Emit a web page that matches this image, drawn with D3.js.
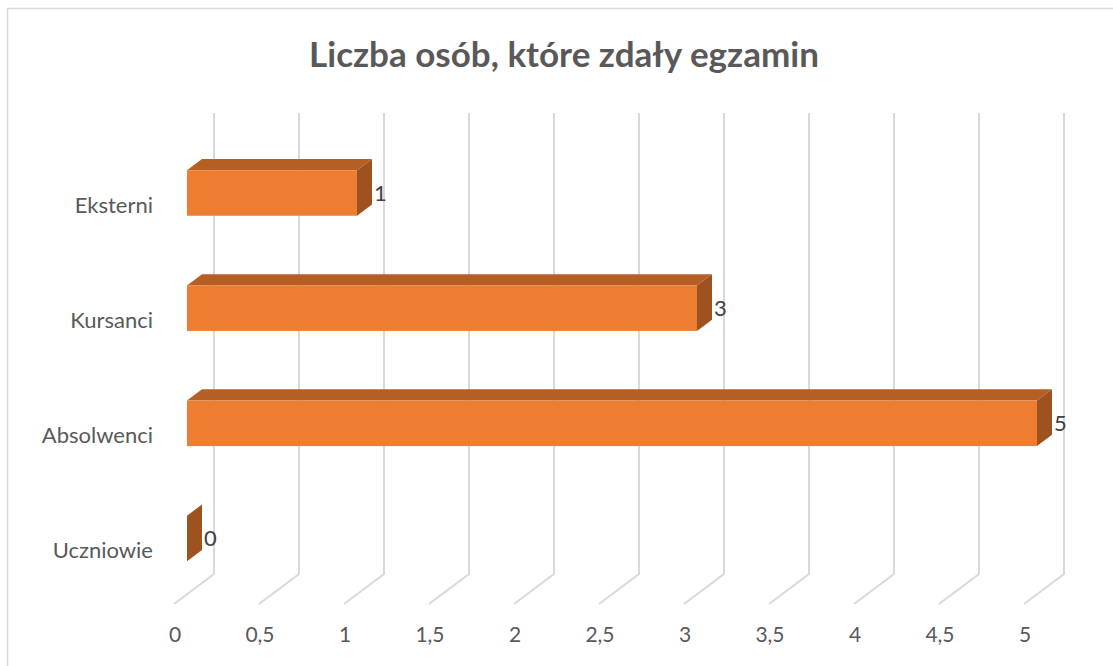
<!DOCTYPE html>
<html>
<head>
<meta charset="utf-8">
<script src="https://cdn.jsdelivr.net/npm/d3@7"></script>
<style>
  body { margin: 0; background: #fff; }
  svg { display: block; font-family: Lato, "Open Sans", sans-serif; }
</style>
</head>
<body>
<script>
const WIDTH = 1113;
const HEIGHT = 666;

var categories = ['Eksterni', 'Kursanci', 'Absolwenci', 'Uczniowie'];
var values = [1, 3, 5, 0];
var ticks = [0, 0.5, 1, 1.5, 2, 2.5, 3, 3.5, 4, 4.5, 5];
var tickLabels = ['0', '0,5', '1', '1,5', '2', '2,5', '3', '3,5', '4', '4,5', '5'];
var title = 'Liczba osób, które zdały egzamin';

// 3d look: back wall is shifted right/up from the front floor edge
var DEPTH_X = 40, DEPTH_Y = -30;
var FLOOR_Y = 604, TOP_Y = 113;
var BAR_H = 45.5;
var barFront = 0.325, barBack = 0.7; // depth fractions of the bar

var svg = d3.select('body').append('svg')
    .attr('width', WIDTH)
    .attr('height', HEIGHT);

// chart border
svg.append('rect')
    .attr('x', 7.5).attr('y', 8.5)
    .attr('width', 1200).attr('height', 700)
    .attr('fill', 'none')
    .attr('stroke', '#d9d9d9')
    .attr('stroke-width', 1.5);

var x = d3.scaleLinear().domain([0, 5]).range([174, 1024]);
var y = d3.scalePoint().domain(categories).range([193, 538.5]);

// gridlines (floor diagonal + back wall vertical)
svg.append('g').selectAll('path')
    .data(ticks)
    .enter()
    .append('path')
    .attr('d', function(t) {
        return 'M' + x(t) + ',' + FLOOR_Y +
            'L' + (x(t) + DEPTH_X) + ',' + (FLOOR_Y + DEPTH_Y) +
            'L' + (x(t) + DEPTH_X) + ',' + TOP_Y;
    })
    .attr('fill', 'none')
    .attr('stroke', '#d9d9d9')
    .attr('stroke-width', 2);

var bars = svg.append('g').selectAll('g')
    .data(categories.map(function(c, i) { return {cat: c, val: values[i]}; }))
    .enter()
    .append('g');

var fx0 = DEPTH_X * barFront;
var bdx = DEPTH_X * (barBack - barFront), bdy = DEPTH_Y * (barBack - barFront);

function pts(arr) { return arr.map(function(p) { return p.join(','); }).join(' '); }

// top face
bars.append('polygon')
    .attr('points', function(d) {
        var x0 = x(0) + fx0, x1 = x(d.val) + fx0, top = y(d.cat) - BAR_H / 2;
        return pts([[x0, top], [x1, top], [x1 + bdx, top + bdy], [x0 + bdx, top + bdy]]);
    })
    .attr('fill', '#b65f24');

// front face
bars.append('rect')
    .attr('x', x(0) + fx0)
    .attr('y', function(d) { return y(d.cat) - BAR_H / 2; })
    .attr('width', function(d) { return x(d.val) - x(0); })
    .attr('height', BAR_H)
    .attr('fill', '#ed7d31');

// side face
bars.append('polygon')
    .attr('points', function(d) {
        var x1 = x(d.val) + fx0, top = y(d.cat) - BAR_H / 2, bot = top + BAR_H;
        return pts([[x1, top], [x1 + bdx, top + bdy], [x1 + bdx, bot + bdy], [x1, bot]]);
    })
    .attr('fill', '#9d521f');

// data labels
bars.append('text')
    .attr('x', function(d) { return x(d.val) + fx0 + bdx + 2; })
    .attr('y', function(d) { return y(d.cat); })
    .attr('dy', '0.35em')
    .attr('fill', '#404040')
    .style('font-size', '22px')
    .text(function(d) { return d.val; });

// category labels
svg.append('g').selectAll('text')
    .data(categories)
    .enter()
    .append('text')
    .attr('x', 153)
    .attr('y', function(c) { return y(c) + 12; })
    .attr('dy', '0.35em')
    .attr('text-anchor', 'end')
    .attr('fill', '#595959')
    .style('font-size', '22px')
    .text(function(c) { return c; });

// value axis labels
svg.append('g').selectAll('text')
    .data(ticks)
    .enter()
    .append('text')
    .attr('x', function(t) { return x(t) + 1; })
    .attr('y', 635)
    .attr('dy', '0.35em')
    .attr('text-anchor', 'middle')
    .attr('fill', '#595959')
    .style('font-size', '21px')
    .text(function(t, i) { return tickLabels[i]; });

svg.append('text')
    .attr('x', 564)
    .attr('y', 55)
    .attr('dy', '0.35em')
    .attr('text-anchor', 'middle')
    .attr('fill', '#595959')
    .style('font-size', '35px')
    .style('font-weight', 'bold')
    .text(title);
</script>
</body>
</html>
